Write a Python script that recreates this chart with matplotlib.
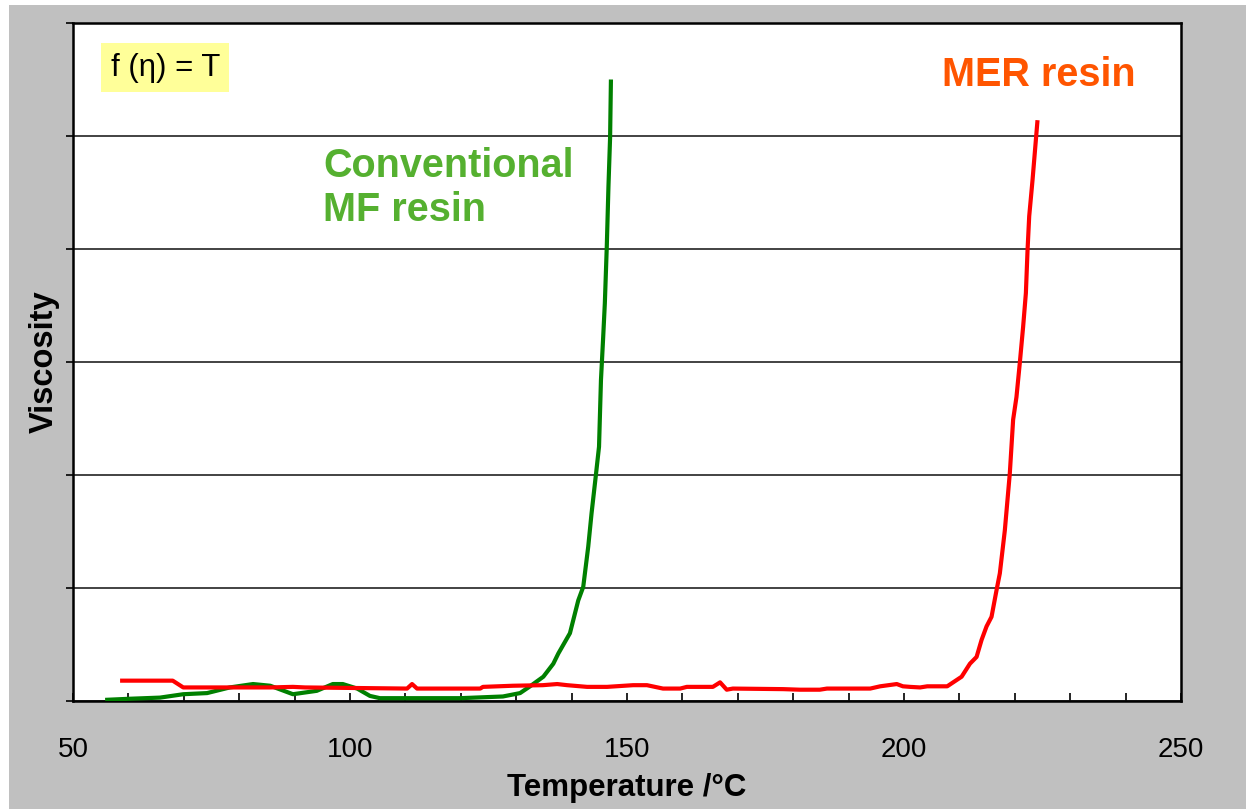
import matplotlib.pyplot as plt
from matplotlib.patches import Rectangle
from matplotlib.ticker import MultipleLocator, NullFormatter

plt.rcParams['font.family'] = ['Liberation Sans', 'DejaVu Sans']

# conventional MF resin (temperature in C, viscosity in arbitrary units)
mf_temp = [55.8, 60.3, 65.7, 69.9, 74.2, 78.3, 82.5, 85.6, 89.7, 94.0, 96.9,
           98.7, 101.3, 103.6, 105.4, 119.9, 127.6, 130.7, 132.5, 134.9, 136.7,
           137.6, 139.7, 141.2, 142.1, 143.0, 143.6, 144.35, 144.95, 145.3,
           145.7, 146.0, 146.35, 146.65, 146.95, 147.1]
mf_visc = [0.01, 0.02, 0.03, 0.06, 0.07, 0.12, 0.15, 0.135, 0.06, 0.09, 0.15,
           0.15, 0.11, 0.045, 0.025, 0.025, 0.04, 0.07, 0.13, 0.215, 0.33,
           0.42, 0.60, 0.89, 1.01, 1.365, 1.66, 1.985, 2.25, 2.84,
           3.22, 3.52, 4.02, 4.55, 4.99, 5.50]

# MER resin
mer_temp = [58.5, 68.0, 69.9, 85.6, 89.7, 91.9, 110.3, 111.2, 112.1, 123.5,
            124.0, 129.4, 134.8, 137.4, 139.2, 142.8, 146.4, 151.1, 153.6,
            156.5, 159.6, 160.8, 165.5, 166.8, 168.0, 169.1, 178.2, 181.2,
            184.8, 186.1, 193.9, 195.7, 198.7, 199.8, 201.1, 202.9, 204.2,
            207.8, 210.4, 211.9, 213.1, 214.0, 214.9, 215.8, 216.7, 217.3,
            218.2, 219.1, 219.7, 220.3, 220.9, 221.5, 222.0, 222.3, 222.6,
            223.2, 224.1]
mer_visc = [0.18, 0.18, 0.12, 0.12, 0.125, 0.12, 0.11, 0.15, 0.11, 0.11,
            0.125, 0.135, 0.14, 0.15, 0.14, 0.125, 0.125, 0.14, 0.14,
            0.11, 0.11, 0.125, 0.125, 0.165, 0.10, 0.11, 0.105, 0.10,
            0.10, 0.11, 0.11, 0.13, 0.15, 0.13, 0.125, 0.12, 0.13,
            0.13, 0.215, 0.33, 0.39, 0.54, 0.66, 0.745, 0.98, 1.13,
            1.51, 2.015, 2.49, 2.69, 2.99, 3.31, 3.61, 3.99, 4.29,
            4.61, 5.14]

x_ticks = [50, 100, 150, 200, 250]

fig = plt.figure(figsize=(12.46, 8.09), dpi=100, facecolor='white')
fig.add_artist(Rectangle((9 / 1246, 0), 1, 1 - 5 / 809, transform=fig.transFigure,
                         facecolor='#c0c0c0', edgecolor='none', zorder=-5))
ax = fig.add_axes([73 / 1246, 108 / 809, 1108 / 1246, 678 / 809])
ax.set_facecolor('white')

ax.plot(mf_temp, mf_visc, color='#008000', lw=3, solid_capstyle='butt', zorder=3)
ax.plot(mer_temp, mer_visc, color='#ff0000', lw=3, solid_capstyle='butt', zorder=3)

ax.set_xlim(50, 250)
ax.set_ylim(0, 6)
ax.set_xticks(x_ticks)
ax.xaxis.set_minor_locator(MultipleLocator(10))
ax.tick_params(axis='x', which='both', direction='in', length=6, width=1.2,
               labelsize=20, pad=26, top=False)
ax.set_yticks(range(0, 7))
ax.yaxis.set_major_formatter(NullFormatter())
ax.tick_params(axis='y', direction='out', length=5, width=1.2)
ax.grid(axis='y', color='#222222', lw=1.2)
ax.set_axisbelow(True)
for s in ax.spines.values():
    s.set_linewidth(1.8)
    s.set_color('black')

ax.set_xlabel('Temperature /°C', fontsize=22.5, fontweight='bold', labelpad=7)
ax.set_ylabel('Viscosity', fontsize=23.5, fontweight='bold', labelpad=1)

ax.text(0.034, 0.934, 'f (\u03b7) = T', transform=ax.transAxes, fontsize=22.5,
        va='center', ha='left',
        bbox=dict(boxstyle='square,pad=0.3', facecolor='#ffff99', edgecolor='none'))
ax.text(0.226, 0.757, 'Conventional\nMF resin', transform=ax.transAxes, fontsize=28.5,
        fontweight='bold', color='#55b030', va='center', ha='left', linespacing=1.2)
ax.text(0.784, 0.923, 'MER resin', transform=ax.transAxes, fontsize=28.5,
        fontweight='bold', color='#ff5500', va='center', ha='left')

fig.savefig('out.png', dpi=100)
